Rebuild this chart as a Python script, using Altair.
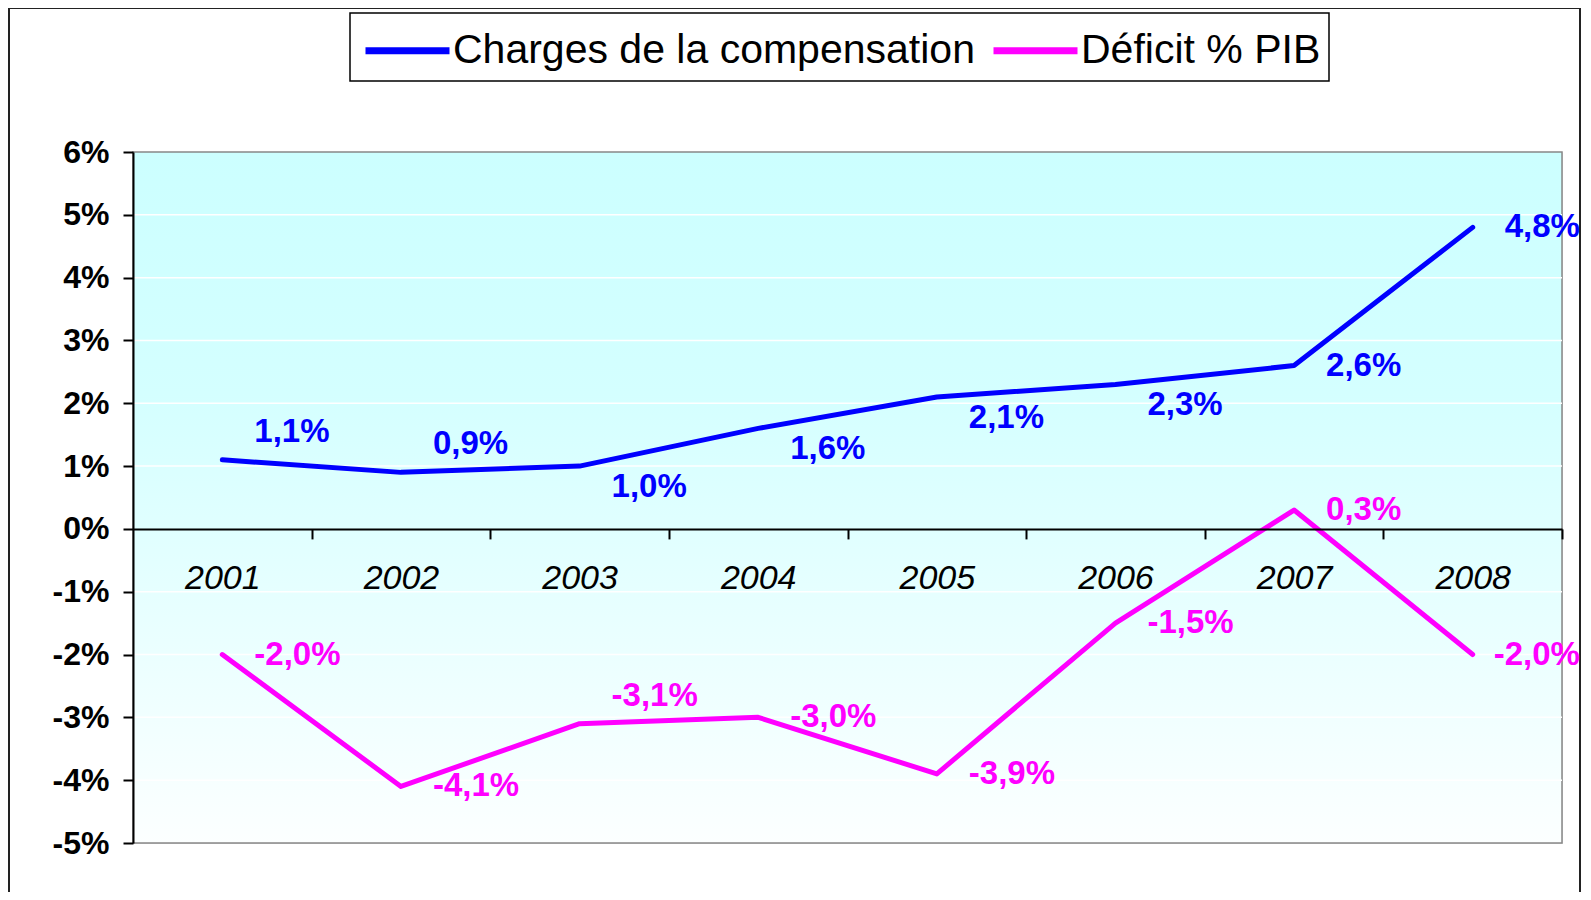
import altair as alt
import pandas as pd

# ---- data ----
years = ["2001", "2002", "2003", "2004", "2005", "2006", "2007", "2008"]
charges = [1.1, 0.9, 1.0, 1.6, 2.1, 2.3, 2.6, 4.8]
deficit = [-2.0, -4.1, -3.1, -3.0, -3.9, -1.5, 0.3, -2.0]
series_names = ["Charges de la compensation", "Déficit % PIB"]
series_colors = ["#0000FF", "#FF00FF"]
charges_label_pos = ["above", "above", "below", "below", "below", "below", "right", "right"]
deficit_label_pos = ["right", "right", "above", "right", "right", "right", "right", "edge"]
y_ticks = [-5, -4, -3, -2, -1, 0, 1, 2, 3, 4, 5, 6]
grid_values = [-4, -3, -2, -1, 1, 2, 3, 4, 5]


def fmt(v):
    return f"{v:.1f}".replace(".", ",") + "%"


rows = []
for name, vals, poss in [(series_names[0], charges, charges_label_pos),
                         (series_names[1], deficit, deficit_label_pos)]:
    for yr, v, p in zip(years, vals, poss):
        rows.append({"year": yr, "value": v, "series": name, "label": fmt(v), "pos": p})
df = pd.DataFrame(rows)
grid_df = pd.DataFrame({"value": grid_values})

W, H = 1429, 691
STEP = W / len(years)
FONT = "Liberation Sans"

x_enc = alt.X(
    "year:N",
    sort=years,
    scale=alt.Scale(type="point", padding=0.5),
    title=None,
    axis=alt.Axis(
        orient="bottom",
        offset=-H * 5 / 11,
        domainColor="black",
        domainWidth=2,
        tickColor="black",
        tickWidth=2,
        tickSize=10,
        tickOffset=STEP / 2,
        labelOffset=-STEP / 2,
        labelPadding=23,
        labelFont=FONT,
        labelFontSize=34,
        labelFontStyle="italic",
        labelColor="black",
        labelAngle=0,
        grid=False,
        zindex=1,
    ),
)

y_scale = alt.Scale(domain=[-5, 6], nice=False, zero=False)
y_enc = alt.Y(
    "value:Q",
    scale=y_scale,
    title=None,
    axis=alt.Axis(
        values=y_ticks,
        labelExpr="datum.value + '%'",
        domainColor="black",
        domainWidth=2,
        tickColor="black",
        tickWidth=2,
        tickSize=10,
        labelPadding=14,
        labelFont=FONT,
        labelFontSize=32,
        labelFontWeight="bold",
        labelColor="black",
        grid=False,
        zindex=1,
    ),
)

color_scale = alt.Scale(domain=series_names, range=series_colors)

gradient = alt.LinearGradient(
    gradient="linear",
    stops=[
        alt.GradientStop(color="#CCFFFF", offset=0),
        alt.GradientStop(color="#D4FFFF", offset=0.35),
        alt.GradientStop(color="#FCFFFF", offset=1),
    ],
    x1=0, x2=0, y1=0, y2=1,
)

blank = alt.Data(values=[{}])

# outer chart-area frame (decoration)
frame = alt.Chart(blank).mark_rect(filled=False, stroke="#222222", strokeWidth=2).encode(
    x=alt.value(-124), x2=alt.value(W + 18), y=alt.value(-144), y2=alt.value(H + 200)
)

# legend box (decoration)
legend_box = alt.Chart(blank).mark_rect(fill="white", stroke="black", strokeWidth=1.5).encode(
    x=alt.value(217), x2=alt.value(1196), y=alt.value(-139), y2=alt.value(-71)
)

background = alt.Chart(blank).mark_rect(color=gradient, stroke="#888888", strokeWidth=1.5).encode(
    x=alt.value(0), x2=alt.value(W), y=alt.value(0), y2=alt.value(H)
)

grid = alt.Chart(grid_df).mark_rule(color="white", strokeWidth=1.5).encode(
    y=alt.Y("value:Q", scale=y_scale, title=None)
)

lines = alt.Chart(df).mark_line(strokeWidth=5, strokeJoin="round", strokeCap="round").encode(
    x=x_enc,
    y=y_enc,
    color=alt.Color(
        "series:N",
        scale=color_scale,
        sort=series_names,
        legend=alt.Legend(
            orient="none",
            legendX=229,
            legendY=-135,
            direction="horizontal",
            title=None,
            labelFont=FONT,
            labelFontSize=41,
            labelColor="black",
            labelLimit=1000,
            labelOffset=24,
            symbolType="M-1,0H1.8",
            symbolStrokeWidth=7,
            symbolSize=3600,
            padding=0,
            columnPadding=4,
        ),
    ),
    detail="series:N",
)

label_style = {"above": (32, -28), "below": (32, 21), "right": (32, 0), "edge": (21, 0)}
texts = []
for pos, (dx, dy) in label_style.items():
    texts.append(
        alt.Chart(df)
        .transform_filter(alt.datum.pos == pos)
        .mark_text(align="left", baseline="middle", dx=dx, dy=dy,
                   font=FONT, fontSize=33, fontWeight="bold")
        .encode(
            x=alt.X("year:N", sort=years, scale=alt.Scale(type="point", padding=0.5), title=None),
            y=alt.Y("value:Q", scale=y_scale, title=None),
            text="label:N",
            fill=alt.Fill("series:N", scale=color_scale, legend=None),
        )
    )

chart = alt.layer(frame, legend_box, background, grid, lines, *texts).properties(
    width=W,
    height=H,
    autosize=alt.AutoSizeParams(type="none"),
    padding={"left": 125, "top": 144, "right": 20, "bottom": 49},
).configure_view(stroke=None).configure(background="white")

chart.save("out.html", embed_options={"renderer": "svg", "actions": False})
